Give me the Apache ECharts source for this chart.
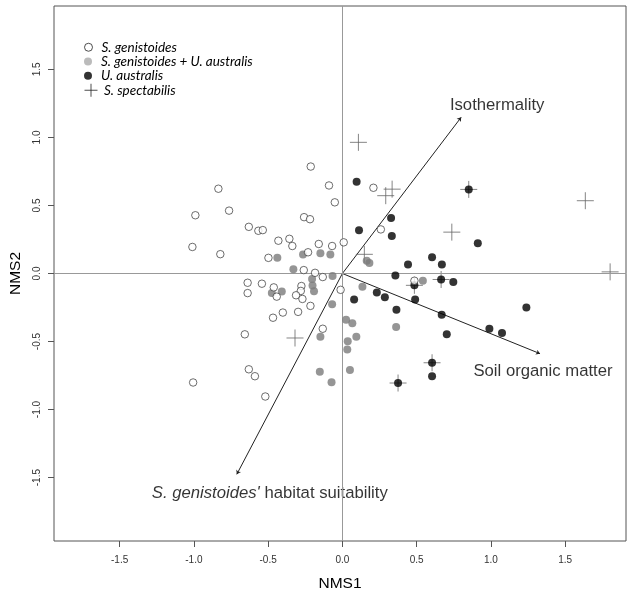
<!DOCTYPE html>
<html>
<head>
<meta charset="utf-8">
<script src="https://cdn.jsdelivr.net/npm/echarts@6/dist/echarts.min.js"></script>
<style>
html,body{margin:0;padding:0;background:#fff;}
#chart{width:628px;height:597px;}
</style>
</head>
<body>
<div id="chart"></div>
<script>
// ---- Data ----
const seriesNames = ['S. genistoides', 'S. genistoides + U. australis', 'U. australis', 'S. spectabilis'];

const genistoidesX = [-0.213,-0.835,-0.090,-0.051,-0.763,-0.990,-0.258,-0.218,-0.630,-0.566,-0.536,-1.010,-0.822,-0.431,-0.357,-0.337,-0.159,-0.069,0.009,-0.498,-0.231,-0.260,-0.184,-0.132,-0.638,-0.542,-0.638,-0.462,-0.442,-0.276,-0.280,-0.312,-0.269,-0.215,-0.012,-0.401,-0.298,-0.467,-0.657,-0.132,-0.630,-0.589,-1.005,-0.519,0.209,0.259,0.485];
const genistoidesY = [0.786,0.623,0.647,0.523,0.462,0.428,0.414,0.399,0.343,0.314,0.319,0.195,0.142,0.241,0.255,0.202,0.217,0.202,0.229,0.115,0.156,0.025,0.005,-0.026,-0.068,-0.075,-0.144,-0.102,-0.170,-0.092,-0.128,-0.160,-0.187,-0.238,-0.120,-0.287,-0.282,-0.325,-0.447,-0.406,-0.704,-0.755,-0.801,-0.904,0.630,0.324,-0.053];

const mixedX = [-0.438,-0.265,-0.148,-0.081,-0.330,-0.066,-0.204,-0.201,-0.191,-0.475,-0.408,-0.069,0.135,0.025,0.067,0.094,0.036,0.033,-0.148,0.051,-0.152,-0.073,0.164,0.182,0.542,0.362];
const mixedY = [0.115,0.139,0.149,0.139,0.031,-0.019,-0.040,-0.088,-0.131,-0.143,-0.132,-0.226,-0.097,-0.339,-0.365,-0.464,-0.498,-0.559,-0.464,-0.710,-0.722,-0.799,0.093,0.078,-0.053,-0.394];

const australisX = [0.096,0.328,0.112,0.333,0.851,0.912,0.604,0.442,0.670,0.357,0.665,0.747,0.485,0.232,0.286,0.079,0.490,0.364,0.669,1.239,0.990,1.075,0.703,0.604,0.604,0.375];
const australisY = [0.674,0.408,0.317,0.275,0.618,0.222,0.120,0.067,0.066,-0.015,-0.044,-0.063,-0.087,-0.139,-0.174,-0.192,-0.192,-0.267,-0.303,-0.250,-0.406,-0.438,-0.447,-0.656,-0.756,-0.805];

const spectabilisX = [0.108,0.335,0.292,0.851,0.148,0.737,1.636,1.803,0.665,0.485,-0.319,0.604,0.375];
const spectabilisY = [0.964,0.620,0.572,0.618,0.141,0.304,0.535,0.012,-0.044,-0.087,-0.474,-0.656,-0.805];

const vectorNames = ['Isothermality', 'Soil organic matter', "S. genistoides' habitat suitability"];
const vectorX = [0.800, 1.331, -0.711];
const vectorY = [1.148, -0.589, -1.476];

const tickValues = [-1.5, -1.0, -0.5, 0.0, 0.5, 1.0, 1.5];
const xTickLabels = ['-1.5', '-1.0', '-0.5', '0.0', '0.5', '1.0', '1.5'];
const yTickLabels = ['-1.5', '-1.0', '-0.5', '0.0', '0.5', '1.0', '1.5'];

// ---- Build ----
const zip = (xs, ys) => xs.map((x, i) => [x, ys[i]]);
const labelOffsets = [[36, -12], [3, 18], [33, 19]];
const crossPath = 'path://M6,0L6,12M0,6L12,6';

const legendRows = [47, 61.3, 75.6, 90];
const legendStyles = [
  {icon: 'circle', itemHeight: 8, itemStyle: {color: '#fff', borderColor: '#222', borderWidth: 1}},
  {icon: 'circle', itemHeight: 8, itemStyle: {color: '#aaa', borderWidth: 0}},
  {icon: 'circle', itemHeight: 8, itemStyle: {color: '#000', borderWidth: 0}},
  {icon: crossPath, itemHeight: 13, itemStyle: {color: 'transparent', borderColor: '#222', borderWidth: 1}}
];
const legends = seriesNames.map((n, i) => ({
  orient: 'vertical', left: 84, top: legendRows[i] - 6.75, padding: 0,
  itemWidth: 16, itemHeight: legendStyles[i].itemHeight, itemGap: 0,
  symbolKeepAspect: true, selectedMode: false,
  textStyle: {fontFamily: 'Lato', fontStyle: 'italic', fontSize: 13.5, color: '#000'},
  data: [{name: n, icon: legendStyles[i].icon, itemStyle: legendStyles[i].itemStyle}]
}));

const fmt = labels => v => {
  const k = tickValues.findIndex(t => Math.abs(t - v) < 1e-9);
  return k >= 0 ? labels[k] : '';
};

const axisCommon = {
  type: 'value',
  splitLine: {show: false},
  axisLine: {show: false, onZero: false},
  axisTick: {show: true, inside: false, length: 6, lineStyle: {color: '#555'}, customValues: tickValues},
};

const option = {
  animation: false,
  backgroundColor: '#fff',
  grid: {left: 54, right: 2, top: 6, bottom: 50, show: true, borderColor: '#555', borderWidth: 1, backgroundColor: 'transparent'},
  legend: legends,
  xAxis: Object.assign({}, axisCommon, {
    min: -1.942, max: 1.910,
    name: 'NMS1', nameLocation: 'middle', nameGap: 35,
    nameTextStyle: {fontFamily: 'Liberation Sans', fontSize: 15.5, color: '#000'},
    axisLabel: {customValues: tickValues, formatter: fmt(xTickLabels), fontFamily: 'Liberation Sans', fontSize: 10, color: '#333', margin: 14}
  }),
  yAxis: Object.assign({}, axisCommon, {
    min: -1.966, max: 1.966,
    name: 'NMS2', nameLocation: 'middle', nameGap: 21,
    nameTextStyle: {fontFamily: 'Liberation Sans', fontSize: 15.5, color: '#000'},
    axisLabel: {customValues: tickValues, formatter: fmt(yTickLabels), rotate: 90, fontFamily: 'Liberation Sans', fontSize: 10, color: '#333', margin: 12}
  }),
  series: [
    {
      name: 'zero', type: 'scatter', data: [], silent: true, z: 1,
      markLine: {
        silent: true, symbol: 'none', animation: false,
        label: {show: false},
        lineStyle: {color: '#999', width: 1, type: 'solid'},
        data: [{xAxis: 0}, {yAxis: 0}]
      }
    },
    {
      name: 'vectors', type: 'lines', coordinateSystem: 'cartesian2d', silent: true, z: 2,
      symbol: ['none', 'arrow'], symbolSize: 4,
      lineStyle: {color: '#222', width: 1, opacity: 1, curveness: 0},
      data: vectorX.map((x, i) => ({coords: [[0, 0], [x, vectorY[i]]]}))
    },
    {
      name: 'vectorLabels', type: 'scatter', silent: true, z: 3,
      symbolSize: 1, itemStyle: {color: 'transparent'},
      data: vectorX.map((x, i) => ({
        value: [x, vectorY[i]],
        label: {
          show: true, position: 'inside', offset: labelOffsets[i],
          formatter: i === 2
            ? '{it|' + vectorNames[i].split("'")[0] + "'}{rg|" + vectorNames[i].split("'")[1] + '}'
            : vectorNames[i],
          fontFamily: 'Liberation Sans', fontSize: 16.7, color: '#000',
          rich: {
            it: {fontFamily: 'Liberation Sans', fontSize: 16.7, fontStyle: 'italic', color: '#000'},
            rg: {fontFamily: 'Liberation Sans', fontSize: 16.7, color: '#000'}
          }
        }
      }))
    },
    {
      name: seriesNames[3], type: 'scatter', z: 4,
      symbol: crossPath, symbolSize: 17,
      itemStyle: {color: 'transparent', borderColor: '#666', borderWidth: 1},
      data: zip(spectabilisX, spectabilisY)
    },
    {
      name: seriesNames[1], type: 'scatter', z: 5,
      symbol: 'circle', symbolSize: 8,
      itemStyle: {color: '#7a7a7a', borderWidth: 0},
      data: zip(mixedX, mixedY)
    },
    {
      name: seriesNames[2], type: 'scatter', z: 6,
      symbol: 'circle', symbolSize: 8,
      itemStyle: {color: '#000', borderWidth: 0},
      data: zip(australisX, australisY)
    },
    {
      name: seriesNames[0], type: 'scatter', z: 7,
      symbol: 'circle', symbolSize: 7.5,
      itemStyle: {color: '#fff', borderColor: '#333', borderWidth: 0.9},
      data: zip(genistoidesX, genistoidesY)
    }
  ]
};

const chart = echarts.init(document.getElementById('chart'), null, {renderer: 'canvas'});
chart.setOption(option);
</script>
</body>
</html>
